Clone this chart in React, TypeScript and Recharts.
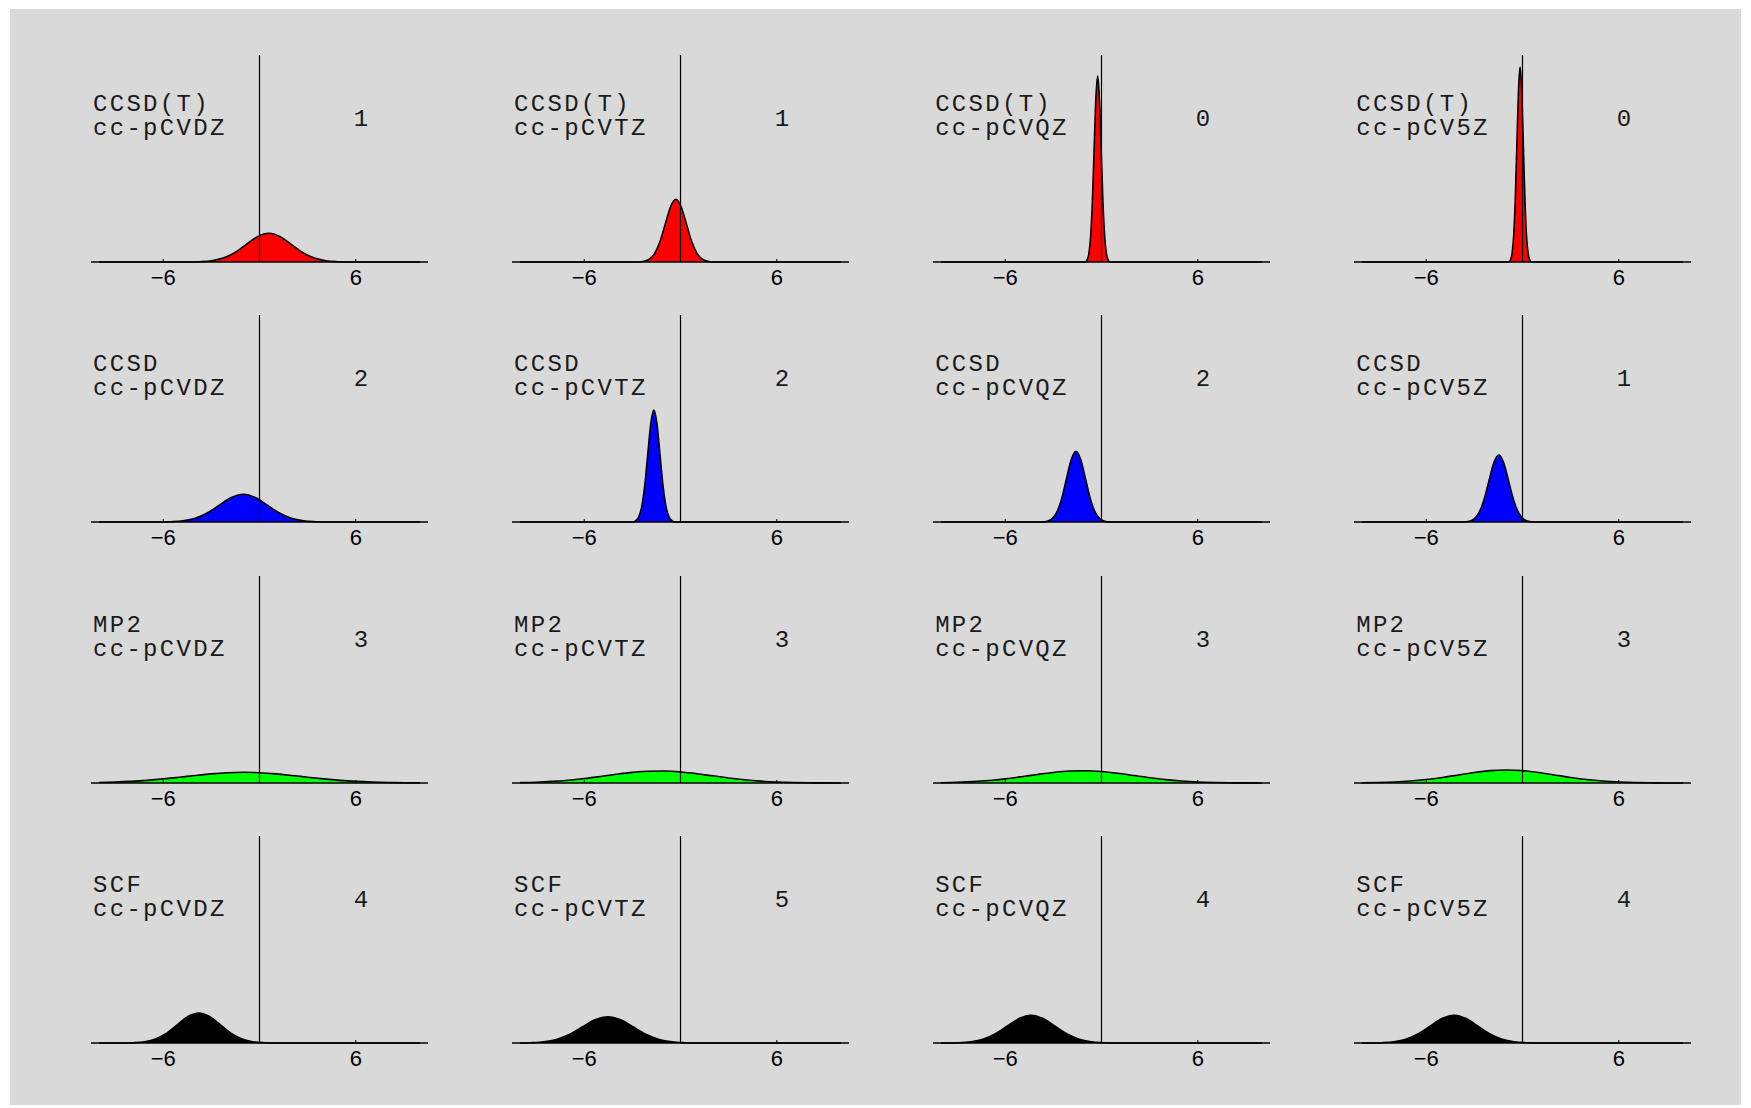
import { AreaChart, Area, XAxis, YAxis, ReferenceLine } from 'recharts'

// grid of 4 x 4 small density plots (method x basis set)
const methods = ['CCSD(T)', 'CCSD', 'MP2', 'SCF']
const bases = ['cc-pCVDZ', 'cc-pCVTZ', 'cc-pCVQZ', 'cc-pCV5Z']
const fills = ['#ff0000', '#0000ff', '#00ff00', '#000000']

// number printed in the upper right of each panel, one array per method row
const countsCCSDT = [1, 1, 0, 0]
const countsCCSD = [2, 2, 2, 1]
const countsMP2 = [3, 3, 3, 3]
const countsSCF = [4, 5, 4, 4]

const xTicks = [-6, 6]
const xDomain: [number, number] = [-10.5, 10.5]
const yDomain: [number, number] = [0, 2.07]

// curve points [x, y]
const ccsdtDZ = [[-10, 0], [-4.2, 0], [-3.68, 0.003], [-2.97, 0.013], [-2.26, 0.039], [-1.55, 0.093], [-0.84, 0.174], [-0.13, 0.253], [0.58, 0.287], [1.29, 0.253], [2.0, 0.174], [2.71, 0.093], [3.42, 0.039], [4.13, 0.013], [4.84, 0.003], [5.4, 0], [10, 0]]
const ccsdtTZ = [[-10, 0], [-2.6, 0], [-2.27, 0.007], [-1.94, 0.028], [-1.61, 0.085], [-1.28, 0.204], [-0.95, 0.38], [-0.62, 0.553], [-0.29, 0.627], [0.04, 0.553], [0.37, 0.38], [0.7, 0.204], [1.03, 0.085], [1.36, 0.028], [1.69, 0.007], [2.0, 0], [10, 0]]
const ccsdtQZ = [[-10, 0], [-1.0, 0], [-0.9, 0.021], [-0.79, 0.082], [-0.68, 0.252], [-0.57, 0.604], [-0.46, 1.128], [-0.35, 1.641], [-0.24, 1.86], [-0.13, 1.641], [-0.02, 1.128], [0.09, 0.604], [0.2, 0.252], [0.31, 0.082], [0.42, 0.021], [0.52, 0], [10, 0]]
const ccsdt5Z = [[-10, 0], [-0.85, 0], [-0.75, 0.022], [-0.65, 0.086], [-0.55, 0.264], [-0.45, 0.633], [-0.35, 1.183], [-0.25, 1.721], [-0.15, 1.95], [-0.05, 1.721], [0.05, 1.183], [0.15, 0.633], [0.25, 0.264], [0.35, 0.086], [0.45, 0.022], [0.55, 0], [10, 0]]

const ccsdDZ = [[-10, 0], [-6.2, 0], [-5.51, 0.003], [-4.76, 0.012], [-4.01, 0.037], [-3.26, 0.09], [-2.51, 0.168], [-1.76, 0.244], [-1.01, 0.277], [-0.26, 0.244], [0.49, 0.168], [1.24, 0.09], [1.99, 0.037], [2.74, 0.012], [3.49, 0.003], [4.2, 0], [10, 0]]
const ccsdTZ = [[-10, 0], [-2.98, 0], [-2.8, 0.012], [-2.61, 0.049], [-2.42, 0.152], [-2.23, 0.364], [-2.04, 0.679], [-1.85, 0.988], [-1.66, 1.12], [-1.47, 0.988], [-1.28, 0.679], [-1.09, 0.364], [-0.9, 0.152], [-0.71, 0.049], [-0.52, 0.012], [-0.34, 0], [10, 0]]
const ccsdQZ = [[-10, 0], [-3.69, 0], [-3.39, 0.008], [-3.09, 0.031], [-2.79, 0.096], [-2.49, 0.229], [-2.19, 0.428], [-1.89, 0.623], [-1.59, 0.706], [-1.29, 0.623], [-0.99, 0.428], [-0.69, 0.229], [-0.39, 0.096], [-0.09, 0.031], [0.21, 0.008], [0.51, 0], [10, 0]]
const ccsd5Z = [[-10, 0], [-3.65, 0], [-3.34, 0.007], [-3.03, 0.029], [-2.72, 0.091], [-2.41, 0.218], [-2.1, 0.406], [-1.79, 0.591], [-1.48, 0.67], [-1.17, 0.591], [-0.86, 0.406], [-0.55, 0.218], [-0.24, 0.091], [0.07, 0.029], [0.38, 0.007], [0.69, 0], [10, 0]]

// MP2 curves are wide, read on a whole-unit grid
const mp2X = [-10, -9, -8, -7, -6, -5, -4, -3, -2, -1, 0, 1, 2, 3, 4, 5, 6, 7, 8, 9, 10]
const mp2DZ = [0.0047, 0.0091, 0.0162, 0.0267, 0.0408, 0.0577, 0.0756, 0.0917, 0.103, 0.107, 0.103, 0.0917, 0.0756, 0.0577, 0.0408, 0.0267, 0.0162, 0.0091, 0.0047, 0.0023, 0.001]
const mp2TZ = [0.0039, 0.0082, 0.0158, 0.0277, 0.0445, 0.0651, 0.0869, 0.1059, 0.1177, 0.1193, 0.1104, 0.0931, 0.0717, 0.0503, 0.0322, 0.0189, 0.01, 0.0049, 0.0022, 0.0009, 0.0003]
const mp2QZ = [0.0032, 0.007, 0.0139, 0.0252, 0.0415, 0.0623, 0.0851, 0.1057, 0.1194, 0.1228, 0.1148, 0.0976, 0.0755, 0.0532, 0.034, 0.0198, 0.0105, 0.0051, 0.0022, 0.0009, 0.0003]
const mp25Z = [0.0018, 0.0044, 0.0097, 0.0193, 0.0345, 0.0556, 0.0807, 0.1051, 0.1233, 0.13, 0.1233, 0.1051, 0.0807, 0.0556, 0.0345, 0.0193, 0.0097, 0.0044, 0.0018, 0.0006, 0.0002]

const scfDZ = [[-10, 0], [-8.5, 0], [-7.83, 0.003], [-7.16, 0.013], [-6.48, 0.041], [-5.81, 0.097], [-5.13, 0.182], [-4.46, 0.265], [-3.78, 0.3], [-3.11, 0.265], [-2.43, 0.182], [-1.76, 0.097], [-1.08, 0.041], [-0.41, 0.013], [0.27, 0.003], [0.95, 0], [10, 0]]
const scfTZ = [[-10, 0], [-9.33, 0.003], [-8.53, 0.012], [-7.73, 0.036], [-6.93, 0.085], [-6.13, 0.16], [-5.33, 0.232], [-4.53, 0.263], [-3.73, 0.232], [-2.93, 0.16], [-2.13, 0.085], [-1.33, 0.036], [-0.53, 0.012], [0.27, 0.003], [1.07, 0], [10, 0]]
const scfQZ = [[-10, 0], [-8.89, 0.003], [-8.14, 0.012], [-7.39, 0.037], [-6.64, 0.09], [-5.89, 0.168], [-5.14, 0.244], [-4.39, 0.277], [-3.64, 0.244], [-2.89, 0.168], [-2.14, 0.09], [-1.39, 0.037], [-0.64, 0.012], [0.11, 0.003], [0.86, 0], [10, 0]]
const scf5Z = [[-10, 0], [-9.52, 0], [-8.77, 0.003], [-8.02, 0.012], [-7.27, 0.037], [-6.52, 0.09], [-5.77, 0.168], [-5.02, 0.244], [-4.27, 0.277], [-3.52, 0.244], [-2.77, 0.168], [-2.02, 0.09], [-1.27, 0.037], [-0.52, 0.012], [0.23, 0.003], [0.98, 0], [10, 0]]

const zipMp2 = (ys: number[]) => mp2X.map((x, i) => [x, ys[i]])

const curves = [
  [ccsdtDZ, ccsdtTZ, ccsdtQZ, ccsdt5Z],
  [ccsdDZ, ccsdTZ, ccsdQZ, ccsd5Z],
  [zipMp2(mp2DZ), zipMp2(mp2TZ), zipMp2(mp2QZ), zipMp2(mp25Z)],
  [scfDZ, scfTZ, scfQZ, scf5Z],
]
const counts = [countsCCSDT, countsCCSD, countsMP2, countsSCF]

// layout (px)
const PLOT_LEFT = 91
const PLOT_TOP = 55
const PLOT_W = 337
const PLOT_H = 207
const COL_STEP = 421.07
const ROW_STEP = 260.3
const AXIS_H = 32

const monoFont = "'Liberation Mono', 'Courier New', monospace"
const sansFont = "'Liberation Sans', Arial, Helvetica, sans-serif"

// tick label with a real minus sign, baseline set under the axis line
const XTick = (props: any) => {
  const { x, payload } = props
  const v = payload.value
  return (
    <g>
      <line x1={x} x2={x} y1={PLOT_H} y2={PLOT_H - 3} stroke="#000" strokeWidth={1} />
      <text x={x} y={PLOT_H + 23} textAnchor="middle" fontSize={22} fontFamily={sansFont} fill="#000">
        {v < 0 ? `\u2212${Math.abs(v)}` : `${v}`}
      </text>
    </g>
  )
}

function Panel({ row, col }: { row: number; col: number }) {
  const data = curves[row][col].map(([x, y]) => ({ x, y }))
  return (
    <div style={{ position: 'absolute', left: PLOT_LEFT + col * COL_STEP, top: PLOT_TOP + row * ROW_STEP }}>
      <AreaChart width={PLOT_W} height={PLOT_H + AXIS_H} data={data} margin={{ top: 0, right: 0, bottom: 0, left: 0 }}>
        <XAxis
          dataKey="x"
          type="number"
          domain={xDomain}
          ticks={xTicks}
          height={AXIS_H}
          axisLine={{ stroke: '#000', strokeWidth: 1.5 }}
          tickLine={false}
          tick={XTick}
        />
        <YAxis hide domain={yDomain} />
        <Area
          dataKey="y"
          type="monotone"
          fill={fills[row]}
          fillOpacity={1}
          stroke="#000"
          strokeWidth={1.6}
          dot={false}
          activeDot={false}
          isAnimationActive={false}
        />
        <ReferenceLine x={0} stroke="#000" strokeWidth={1.2} />
      </AreaChart>
    </div>
  )
}

export default function App() {
  const cells: Array<[number, number]> = []
  for (let r = 0; r < 4; r++) for (let c = 0; c < 4; c++) cells.push([r, c])

  return (
    <div style={{ position: 'absolute', left: 0, top: 0, width: 1751, height: 1108, background: '#fff' }}>
      <div style={{ position: 'absolute', left: 10, top: 9, width: 1731, height: 1096, background: '#d9d9d9' }} />
      {cells.map(([r, c]) => <Panel key={`${r}-${c}`} row={r} col={c} />)}
      <svg width={1751} height={1108} style={{ position: 'absolute', left: 0, top: 0, pointerEvents: 'none' }}>
        {cells.map(([r, c]) => {
          const x0 = PLOT_LEFT + 2 + c * COL_STEP
          const y0 = PLOT_TOP + r * ROW_STEP
          return (
            <g key={`t-${r}-${c}`} fontFamily={monoFont} fontSize={24} fill="#1a1a1a" style={{ letterSpacing: '2.3px' }}>
              <text x={x0} y={y0 + 56}>{methods[r]}</text>
              <text x={x0} y={y0 + 80}>{bases[c]}</text>
              <text x={PLOT_LEFT + 271 + c * COL_STEP} y={y0 + 71} textAnchor="middle">{counts[r][c]}</text>
            </g>
          )
        })}
      </svg>
    </div>
  )
}
